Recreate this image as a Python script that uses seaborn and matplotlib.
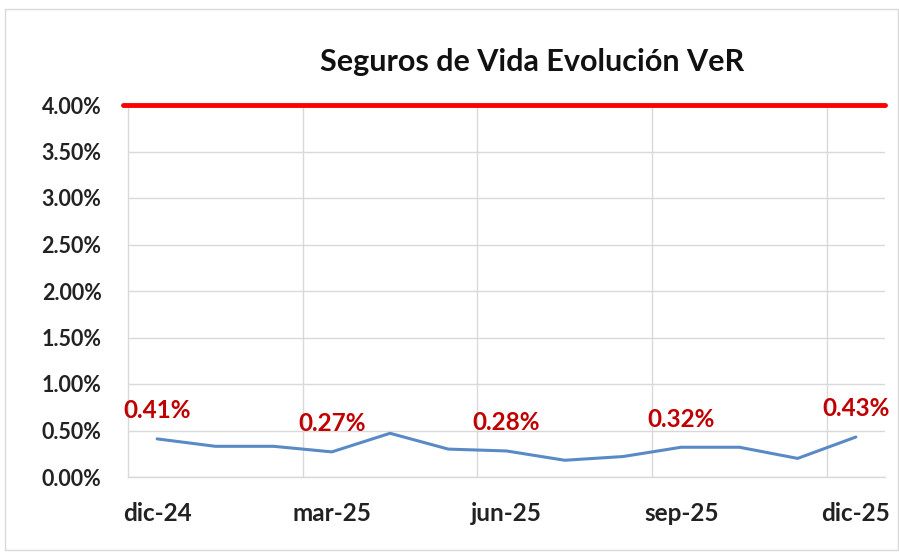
import matplotlib
matplotlib.use("Agg")
import matplotlib.pyplot as plt
import seaborn as sns
import pandas as pd
from matplotlib.patches import Rectangle

months = ["dic-24", "ene-25", "feb-25", "mar-25", "abr-25", "may-25", "jun-25",
          "jul-25", "ago-25", "sep-25", "oct-25", "nov-25", "dic-25"]
ver_values = [0.41, 0.33, 0.33, 0.27, 0.47, 0.30, 0.28, 0.18, 0.22, 0.32, 0.32, 0.20, 0.43]
limit_value = 4.00
label_idx = [0, 3, 6, 9, 12]
y_ticks = [0.0, 0.5, 1.0, 1.5, 2.0, 2.5, 3.0, 3.5, 4.0]

sns.set_theme(style="white")
plt.rcParams['font.family'] = ['Lato', 'DejaVu Sans']

df = pd.DataFrame({"pos": range(len(months)), "mes": months, "ver": ver_values})

fig = plt.figure(figsize=(8.99, 5.53), dpi=100)
ax = fig.add_axes([128/899, 1-477/553, (885-128)/899, (477-105)/553])

grid_c = "#D9D9D9"
for y in y_ticks:
    ax.axhline(y, color=grid_c, lw=1.0, zorder=0)
for xb in [2.5, 5.5, 8.5, 11.5]:
    ax.axvline(xb, color=grid_c, lw=1.0, zorder=0)

ax.axhline(limit_value, color="#FF0000", lw=3.5, zorder=3, xmin=-0.007, clip_on=False)

sns.lineplot(data=df, x="pos", y="ver", ax=ax, color="#5A8AC6", lw=2.2, zorder=4)

for i in label_idx:
    ax.annotate(f"{ver_values[i]:.2f}%", (i, ver_values[i]), xytext=(0, 12),
                textcoords="offset points", ha="center", va="bottom",
                color="#C00000", fontsize=17.5, fontweight="bold")

ax.set_xlim(-0.5, 12.5)
ax.set_ylim(0, 4.0)
ax.set_yticks(y_ticks)
ax.set_yticklabels([f"{v:.2f}%" for v in y_ticks], fontsize=15.5, fontweight="bold", color="#222222")
ax.set_xticks(label_idx)
ax.set_xticklabels([months[i] for i in label_idx], fontsize=17.5, fontweight="bold", color="#222222")
ax.tick_params(axis="x", length=0, pad=18)
ax.tick_params(axis="y", length=0, pad=19)
ax.set_xlabel("")
ax.set_ylabel("")
for s in ["top", "right"]:
    ax.spines[s].set_visible(False)
for s in ["left", "bottom"]:
    ax.spines[s].set_color(grid_c)
    ax.spines[s].set_linewidth(1.0)

fig.text(532/899, 1-62/553, "Seguros de Vida Evolución VeR", ha="center", va="center",
         fontsize=22, fontweight="bold", color="#111111")

fig.patches.append(Rectangle((5/899, 0.005), 1-6/899, 1-12/553, transform=fig.transFigure,
                             fill=False, edgecolor="#D9D9D9", lw=1.0))

fig.savefig("out.png", dpi=100)
